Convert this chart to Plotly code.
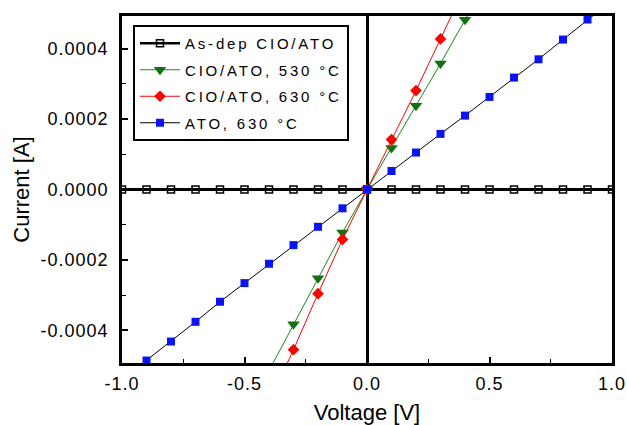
import plotly.graph_objects as go

# Voltage values (V)
v_asdep = [-1.0, -0.9, -0.8, -0.7, -0.6, -0.5, -0.4, -0.3, -0.2, -0.1, 0.0,
           0.1, 0.2, 0.3, 0.4, 0.5, 0.6, 0.7, 0.8, 0.9, 1.0]
i_asdep = [0.0] * 21

v_530 = [-0.4, -0.3, -0.2, -0.1, 0.0, 0.1, 0.2, 0.3, 0.4, 0.5]
i_530 = [-0.000515, -0.000383, -0.000252, -0.000122, 0.0, 0.000118, 0.000238, 0.000358, 0.000482, 0.000605]

v_630 = [-0.4, -0.3, -0.2, -0.1, 0.0, 0.1, 0.2, 0.3, 0.4]
i_630 = [-0.000605, -0.000455, -0.000296, -0.000142, 0.0, 0.000142, 0.000281, 0.000428, 0.000575]

v_ato = [-1.0, -0.9, -0.8, -0.7, -0.6, -0.5, -0.4, -0.3, -0.2, -0.1, 0.0,
         0.1, 0.2, 0.3, 0.4, 0.5, 0.6, 0.7, 0.8, 0.9, 1.0]
i_ato = [-0.00054, -0.000486, -0.000432, -0.000376, -0.000319, -0.000266, -0.000211,
         -0.000158, -0.000106, -0.0000535, 0.0, 0.0000525, 0.000105, 0.000158,
         0.00021, 0.000263, 0.000318, 0.00037, 0.000426, 0.000483, 0.000537]

names = ["As-dep CIO/ATO", "CIO/ATO, 530 °C", "CIO/ATO, 630 °C", "ATO, 630 °C"]

x_tickvals = [-1.0, -0.5, 0.0, 0.5, 1.0]
x_ticktext = ["-1.0", "-0.5", "0.0", "0.5", "1.0"]
y_tickvals = [-0.0004, -0.0002, 0.0, 0.0002, 0.0004]
y_ticktext = ["-0.0004", "-0.0002", "0.0000", "0.0002", "0.0004"]


def spaced(s, px):
    return f'<span style="letter-spacing:{px}px">{s}</span>'


styles = [
    dict(line=dict(color="black", width=2.5),
         marker=dict(symbol="square-open", size=7, color="black", line=dict(width=1.5, color="black"))),
    dict(line=dict(color="#1a8a1a", width=1),
         marker=dict(symbol="triangle-down", size=11, color="#127212")),
    dict(line=dict(color="red", width=1),
         marker=dict(symbol="diamond", size=9, color="red")),
    dict(line=dict(color="black", width=1),
         marker=dict(symbol="square", size=8, color="#0a14f0")),
]
series = [(v_asdep, i_asdep), (v_530, i_530), (v_630, i_630), (v_ato, i_ato)]

W, H = 627, 425
fig = go.Figure()
for k, ((xv, yv), st) in enumerate(zip(series, styles)):
    fig.add_trace(go.Scatter(x=xv, y=yv, name=spaced(names[k], 2.8), mode="lines+markers",
                             legendgroup=f"g{k}", **st))

font = "Liberation Sans, Arial, sans-serif"
fig.update_layout(
    autosize=True,
    margin=dict(l=0, r=0, t=0, b=0, pad=0),
    paper_bgcolor="white", plot_bgcolor="white",
    font=dict(family=font, color="black", size=18),
    showlegend=True,
    legend=dict(x=133 / W, y=1 - 25 / H, xanchor="left", yanchor="top",
                bgcolor="white", bordercolor="black", borderwidth=2,
                font=dict(size=15, family=font), tracegroupgap=4,
                itemwidth=40),
)
fig.update_xaxes(domain=[122 / W, 612 / W], automargin=False,
                 range=[-1.0, 1.0], tickvals=x_tickvals,
                 ticktext=[spaced(t, 1) for t in x_ticktext],
                 ticks="inside", ticklen=6, tickwidth=1.5, tickcolor="black",
                 minor=dict(ticks="inside", dtick=0.25, ticklen=4, tickcolor="black", tickwidth=1),
                 showline=True, linecolor="black", linewidth=2.5, mirror=True,
                 showgrid=False, zeroline=True, zerolinecolor="black", zerolinewidth=2.5,
                 ticklabelstandoff=3,
                 title=dict(text="Voltage [V]", font=dict(size=22), standoff=12),
                 tickfont=dict(size=18))
fig.update_yaxes(domain=[(H - 363) / H, (H - 16) / H], automargin=False,
                 range=[-0.000493, 0.000493], tickvals=y_tickvals,
                 ticktext=[spaced(t, 1) for t in y_ticktext],
                 ticks="inside", ticklen=6, tickwidth=1.5, tickcolor="black",
                 minor=dict(ticks="inside", dtick=0.0001, ticklen=4, tickcolor="black", tickwidth=1),
                 showline=True, linecolor="black", linewidth=2.5, mirror=True,
                 showgrid=False, zeroline=True, zerolinecolor="black", zerolinewidth=2.5,
                 ticklabelstandoff=7,
                 title=dict(text="Current [A]", font=dict(size=22), standoff=5),
                 tickfont=dict(size=18))

fig.write_html("out.html", config={"displayModeBar": False, "responsive": True},
               default_width="100vw", default_height="100vh",
               post_script=("document.documentElement.style.margin='0';"
                            "document.documentElement.style.overflow='hidden';"
                            "document.body.style.margin='0';document.body.style.padding='0';"
                            "document.body.style.overflow='hidden';"
                            "Plotly.Plots.resize(document.getElementById('{plot_id}'));"))
